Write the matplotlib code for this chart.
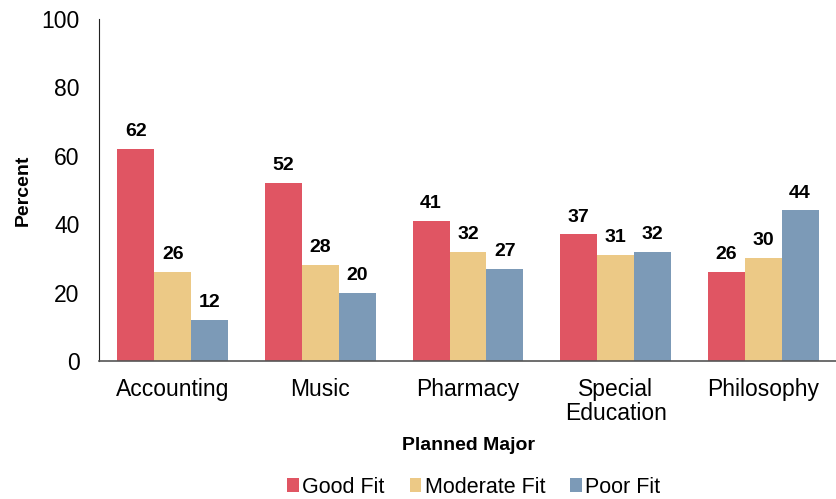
import matplotlib.pyplot as plt
import numpy as np

plt.rcParams['font.family'] = ['Liberation Sans', 'DejaVu Sans']

majors = ['Accounting', 'Music', 'Pharmacy', 'Special\nEducation', 'Philosophy']
good = [62, 52, 41, 37, 26]
moderate = [26, 28, 32, 31, 30]
poor = [12, 20, 27, 32, 44]

series = [('Good Fit', good, '#E05563'),
          ('Moderate Fit', moderate, '#ECC986'),
          ('Poor Fit', poor, '#7C9AB7')]

fig = plt.figure(figsize=(8.37, 4.99), dpi=100)
ax = fig.add_axes([0.1183, 0.2766, 0.8817, 0.6854])

x = np.arange(len(majors))
w = 0.25
for i, (name, vals, col) in enumerate(series):
    bars = ax.bar(x + (i - 1) * w, vals, w, color=col, label=name)
    for b, v in zip(bars, vals):
        ax.text(b.get_x() + b.get_width() / 2, v + 2.6, str(v), ha='center',
                va='bottom', fontsize=14, fontweight='bold')

ax.set_xlim(-0.5, 4.5)
ax.set_ylim(0, 100)
ax.set_yticks([0, 20, 40, 60, 80, 100])
ax.tick_params(axis='both', length=0, labelsize=16.5)
ax.tick_params(axis='x', pad=12)
ax.tick_params(axis='y', pad=14)
ax.set_xticks(x)
ax.set_xticklabels(majors, linespacing=1.05)
for s in ['top', 'right']:
    ax.spines[s].set_visible(False)
ax.spines['left'].set_color('#222222')
ax.spines['bottom'].set_color('#555555')
ax.spines['bottom'].set_linewidth(1.2)

ax.set_ylabel('Percent', fontsize=14, fontweight='bold', labelpad=7)
ax.set_xlabel('Planned Major', fontsize=14, fontweight='bold', labelpad=9)

fig.legend(loc='center', bbox_to_anchor=(0.566, 0.024), ncol=3,
           frameon=False, fontsize=15.5, handlelength=0.55, handleheight=0.6,
           handletextpad=0.15, columnspacing=1.15)

fig.savefig('out.png', dpi=100)
